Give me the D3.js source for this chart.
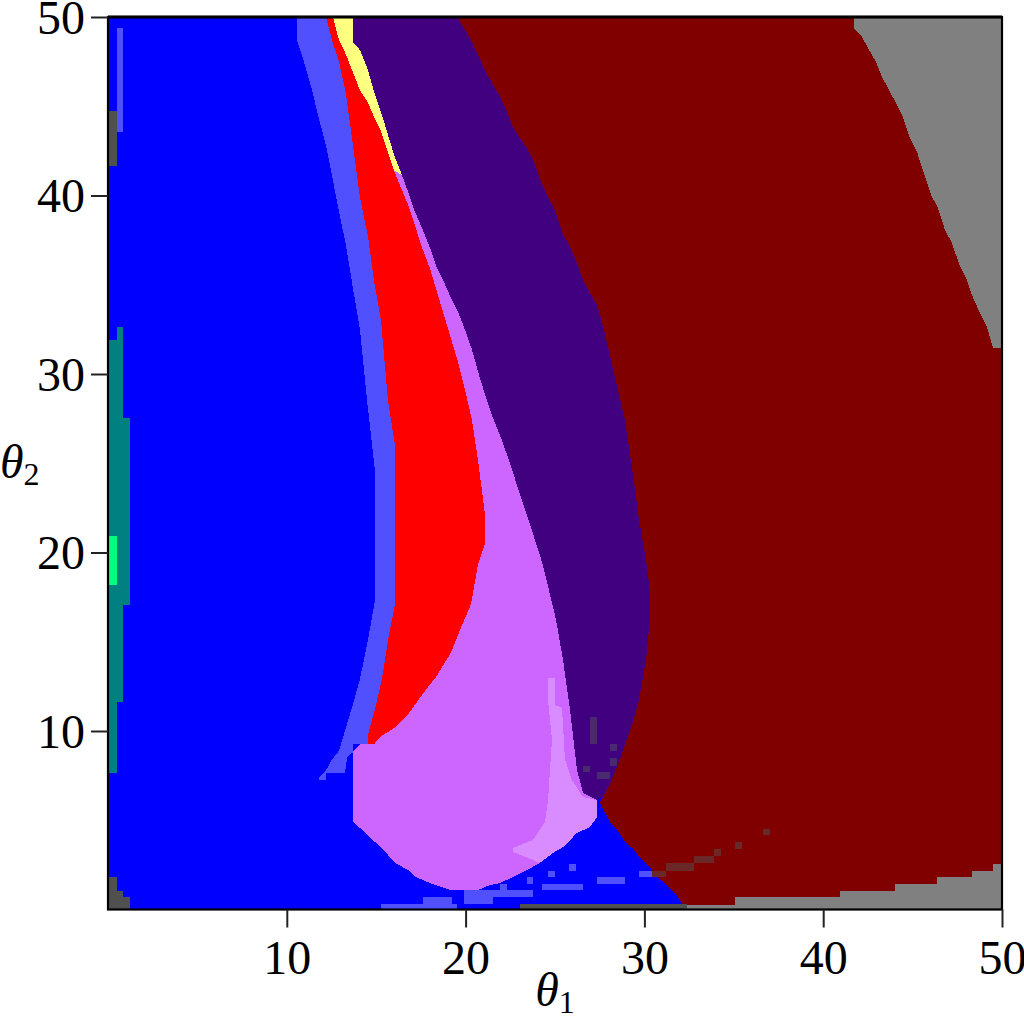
<!DOCTYPE html>
<html><head><meta charset="utf-8">
<script src="https://cdn.jsdelivr.net/npm/d3@7"></script>
<style>html,body{margin:0;padding:0;background:#fff;}svg{display:block;}</style>
</head><body>
<script>
// ---- Data (θ1, θ2) ----
const xTicks = [10, 20, 30, 40, 50];
const yTicks = [10, 20, 30, 40, 50];

const colors = {
  blue: "#0000ff", lightBlue: "#5050ff", red: "#ff0000", yellow: "#ffff80",
  pink: "#cc66ff", lightPink: "#d98cff", violet: "#400080", darkRed: "#800000",
  gray: "#808080", darkGray: "#505050", teal: "#008080", green: "#00ff80",
  faintRed: "#6a2828", faintViolet: "#4a2a6e"
};

// region boundaries
const bLBleft = [[10.57,50],[10.57,48.7],[10.96,47.5],[11.41,45.9],[11.8,44.3],[12.19,42.8],[12.53,41.1],[12.92,39.1],[13.31,37.2],[13.7,34.8],[14.09,32.5],[14.49,28.5],[14.93,24.6],[14.93,17.3],[14.54,15.1],[14.09,12.9],[13.7,11.5],[13.31,10.2],[12.92,8.9],[12.53,8.4],[12.19,7.8],[11.8,7.4]];
const lbConnector = [[11.8,7.26],[12.19,7.26],[12.19,7.65],[13.25,7.65],[13.37,8.49],[13.7,8.82],[13.7,9.27]];
const bRedLeft = [[12.19,50],[12.53,48.7],[12.92,47.5],[13.31,45.7],[13.7,42.8],[14.09,39.9],[14.54,37.7],[14.88,35.2],[15.27,33.0],[15.66,28.5],[16.05,26.0],[16.05,17.1],[15.66,15.1],[15.32,12.9],[14.93,11.2],[14.54,9.8],[14.54,9.27]];
const bRedRight = [[12.58,50],[12.92,48.7],[13.31,47.9],[13.7,46.9],[14.09,45.9],[14.54,45.2],[14.88,44.4],[15.27,43.6],[15.66,42.4],[16.0,41.4],[16.44,40.3],[16.78,39.5],[17.17,38.3],[17.56,37.1],[18.01,35.9],[18.4,34.6],[18.79,33.3],[19.18,32.0],[19.57,30.7],[19.97,29.1],[20.36,27.4],[20.69,25.2],[21.09,22.1],[21.09,20.5],[20.69,19.3],[20.3,17.1],[19.91,16.2],[19.18,14.4],[18.4,13.1],[17.62,12.1],[16.83,11.0],[16.05,10.2],[15.27,9.7],[14.88,9.27]];
const bViolLeft = [[13.7,50],[13.7,48.6],[14.09,48.15],[14.54,47.03],[14.88,45.8],[15.27,44.68],[15.66,43.39],[16.0,42.27],[16.44,41.15],[16.78,40.2],[17.17,39.08],[17.56,38.18],[18.01,37.06],[18.4,35.94],[18.74,35.27],[19.13,34.37],[19.57,33.48],[19.97,32.47],[20.36,31.35],[20.75,29.95],[21.14,28.66],[21.53,27.54],[21.92,26.58],[22.32,25.46],[22.71,24.29],[23.1,23.05],[23.49,21.93],[23.88,20.7],[24.27,19.47],[24.66,17.9],[25.06,16.22],[25.45,13.98],[25.84,11.18],[26.23,7.82],[26.57,6.53],[27.35,6.13]];
const bViolRight = [[19.52,50],[19.91,49.38],[20.3,48.71],[20.69,47.87],[21.09,47.03],[21.53,46.19],[21.92,45.57],[22.32,44.68],[22.65,43.84],[23.04,43.22],[23.43,42.66],[23.83,41.88],[24.22,40.76],[24.61,39.92],[25.0,39.19],[25.39,37.96],[25.78,37.23],[26.17,36.39],[26.57,35.27],[26.96,34.54],[27.35,33.87],[27.74,32.47],[28.13,30.79],[28.52,29.1],[28.91,27.42],[29.31,24.73],[29.7,21.82],[30.09,19.58],[30.31,17.9],[30.31,16.22],[30.09,13.98],[29.7,11.74],[29.31,10.34],[28.91,9.22],[28.52,8.1],[28.13,7.14],[27.68,6.3]];
const bPinkBottom = [[13.7,8.82],[13.7,4.9],[14.09,4.57],[14.54,4.17],[14.93,3.78],[15.32,3.45],[15.66,3.05],[16.05,2.61],[16.78,2.21],[17.23,1.82],[18.01,1.48],[19.18,1.09],[20.69,1.09],[21.36,1.37],[21.92,1.48],[22.65,1.82],[23.43,2.21],[24.16,2.61],[24.89,3.17],[25.45,3.5],[25.84,3.89],[26.23,4.29],[26.96,4.62],[27.35,5.18],[27.35,6.13]];
const bLightPink = [[24.61,12.98],[25.0,12.98],[25.0,11.46],[25.39,11.29],[25.56,8.38],[25.95,7.26],[26.57,6.3],[27.35,6.13],[27.35,5.18],[26.96,4.62],[26.23,4.29],[25.84,3.89],[25.45,3.5],[24.89,3.17],[24.16,2.61],[22.65,3.22],[22.65,3.45],[23.77,3.89],[24.44,4.9],[24.61,6.13],[24.72,7.82],[24.83,9.5],[24.61,11.74]];
const bDarkRedLower = [[27.5,6.0],[28.08,4.9],[28.47,4.45],[28.91,3.78],[29.31,3.45],[29.64,3.05],[30.03,2.61],[30.43,2.21],[30.76,1.76],[31.15,1.48],[31.54,1.09],[31.88,0.7],[32.16,0.25],[32.38,0]];
const bGrayTop = [[41.72,50],[41.72,49.38],[42.11,48.99],[42.51,48.26],[42.95,47.48],[43.29,46.64],[43.68,45.91],[44.07,45.18],[44.46,44.4],[44.85,43.22],[45.25,42.44],[45.64,41.2],[46.03,40.03],[46.42,39.3],[46.81,38.07],[47.2,37.34],[47.6,36.16],[47.99,35.38],[48.38,34.26],[48.77,33.42],[49.16,32.63],[49.5,31.46],[50,31.46]];
const bGrayBottom = [[32.38,0],[32.38,0.25],[35.07,0.25],[35.07,0.7],[40.94,0.7],[40.94,1.04],[44.02,1.04],[44.02,1.43],[46.36,1.43],[46.36,1.82],[48.32,1.82],[48.32,2.16],[49.5,2.16],[49.5,2.55],[50,2.55],[50,0]];

// isolated cells: [θ1 from, θ1 to, θ2 from, θ2 to]
const tealCells = [[0,0.5,7.65,31.9],[0.5,0.84,11.62,32.63],[0.84,1.23,17.06,27.54]];
const greenCells = [[0,0.5,18.18,20.92]];
const darkGrayCells = [[0,0.5,41.65,44.73],[0,0.5,0,1.82],[0.5,0.84,0,1.04],[0.84,1.23,0,0.7],[23.04,32.38,0,0.31]];
const lightBlueCells = [[0.5,0.84,43.56,49.38],[15.27,19.52,0,0.31],[17.62,19.24,0.31,0.7],[19.91,21.53,0.31,1.04],[19.91,23.77,0.7,1.09],[21.92,22.32,1.04,1.43],[23.43,23.77,1.43,1.82],[24.27,26.57,1.09,1.43],[24.61,25.0,1.82,2.16],[25.78,26.17,2.16,2.55],[27.35,28.91,1.43,1.82],[29.7,30.43,1.82,2.16]];
const faintRedCells = [[30.43,31.21,1.82,2.16],[31.21,32.77,2.16,2.61],[32.77,33.89,2.61,3.0],[33.89,34.28,3.0,3.39],[35.07,35.46,3.39,3.78],[36.63,37.02,4.17,4.51]];
const faintVioletCells = [[26.96,27.35,9.27,10.78],[28.08,28.47,8.88,9.27],[28.08,28.47,8.04,8.49],[26.57,26.96,7.7,8.04],[27.35,28.08,7.31,7.7]];

// ---- Drawing ----
const W = 1024, H = 1021;
const x = d3.scaleLinear().domain([0, 50]).range([108, 1002]);
const y = d3.scaleLinear().domain([0, 50]).range([909.5, 17]);

const svg = d3.select("body").append("svg").attr("width", W).attr("height", H);
const g = svg.append("g");
const line = d3.line().x(d => x(d[0])).y(d => y(d[1]));
const rev = a => a.slice().reverse();

function poly(pts, fill) {
  g.append("path").attr("d", line(pts) + "Z").attr("fill", fill).attr("shape-rendering", "crispEdges");
}
function cells(arr, fill) {
  g.selectAll(null).data(arr).enter().append("rect")
    .attr("x", d => x(d[0])).attr("width", d => x(d[1]) - x(d[0]))
    .attr("y", d => y(d[3])).attr("height", d => y(d[2]) - y(d[3]))
    .attr("fill", fill).attr("shape-rendering", "crispEdges");
}

// regions
poly([[0,0],[50,0],[50,50],[0,50]], colors.blue);
poly(bLBleft.concat(lbConnector, rev(bRedLeft)), colors.lightBlue);
poly(bRedRight.concat([[14.09,9.27]], bPinkBottom, rev(bViolLeft)), colors.pink);
poly(bRedLeft.concat(rev(bRedRight)), colors.red);
poly(bRedRight.filter(d => d[1] >= 41.4).concat(rev(bViolLeft.filter(d => d[1] >= 41.1))), colors.yellow);
poly(bLightPink, colors.lightPink);
poly(bViolLeft.concat(rev(bViolRight)), colors.violet);
poly(bViolRight.concat(bDarkRedLower, [[50,0],[50,50]]), colors.darkRed);
poly(bGrayTop.concat([[50,50]]), colors.gray);
poly(bGrayBottom, colors.gray);

cells(tealCells, colors.teal);
cells(greenCells, colors.green);
cells(darkGrayCells, colors.darkGray);
cells(lightBlueCells, colors.lightBlue);
cells(faintRedCells, colors.faintRed);
cells(faintVioletCells, colors.faintViolet);

// frame
svg.append("rect").attr("x", x(0)).attr("y", y(50)).attr("width", x(50) - x(0)).attr("height", y(0) - y(50))
  .attr("fill", "none").attr("stroke", "#000").attr("stroke-width", 2.2);
svg.append("line").attr("x1", x(0)).attr("x2", x(50)).attr("y1", y(50)).attr("y2", y(50))
  .attr("stroke", "#000").attr("stroke-width", 3);

// axes
const font = "'Liberation Serif', 'Times New Roman', serif";
const xAxis = svg.append("g").attr("transform", `translate(0,${y(0)})`)
  .call(d3.axisBottom(x).tickValues(xTicks).tickSize(18).tickPadding(12).tickFormat(d3.format("d")));
const yAxis = svg.append("g").attr("transform", `translate(${x(0)},0)`)
  .call(d3.axisLeft(y).tickValues(yTicks).tickSize(17).tickPadding(6).tickFormat(d3.format("d")));
[xAxis, yAxis].forEach(a => {
  a.select(".domain").remove();
  a.selectAll(".tick line").attr("stroke", "#222").attr("stroke-width", 2);
  a.selectAll(".tick text").attr("font-family", font).attr("font-size", 48).attr("fill", "#000");
});
yAxis.selectAll(".tick text").attr("dy", "0.34em");

// axis titles
const t1 = svg.append("text").attr("x", x(25)).attr("y", 1006).attr("text-anchor", "middle")
  .attr("font-family", font).attr("font-size", 48).attr("fill", "#000");
t1.append("tspan").attr("font-style", "italic").text("θ");
t1.append("tspan").attr("font-size", 32).attr("dy", 7).text("1");

const t2 = svg.append("text").attr("x", 0).attr("y", 478).attr("text-anchor", "start")
  .attr("font-family", font).attr("font-size", 48).attr("fill", "#000");
t2.append("tspan").attr("font-style", "italic").text("θ");
t2.append("tspan").attr("font-size", 32).attr("dy", 7).text("2");
</script>
</body></html>
